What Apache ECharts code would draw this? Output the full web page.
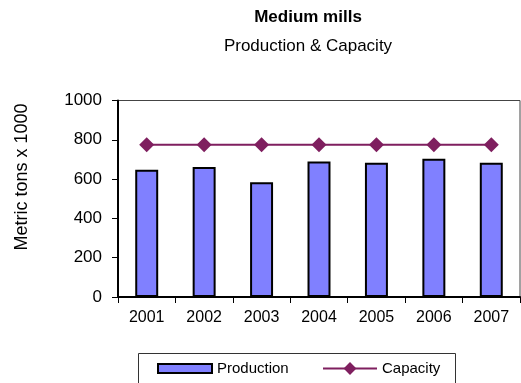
<!DOCTYPE html>
<html>
<head>
<meta charset="utf-8">
<script src="https://cdn.jsdelivr.net/npm/echarts@6/dist/echarts.min.js"></script>
<style>
  html, body { margin: 0; padding: 0; background: #fff; }
  #chart { width: 521px; height: 383px; }
</style>
</head>
<body>
<div id="chart"></div>
<script>
// Medium mills: yearly production against installed capacity (metric tons x 1000)
const years = ['2001', '2002', '2003', '2004', '2005', '2006', '2007'];
const production = [647, 661, 584, 689, 683, 703, 683];
const capacity = [775, 775, 775, 775, 775, 775, 775];
const yTicks = { min: 0, max: 1000, step: 200 };

const FONT = 'Liberation Sans, Arial, sans-serif';
const BAR_FILL = '#8080ff';
const LINE_COLOR = '#7f1f5f';

const chart = echarts.init(document.getElementById('chart'), null, { renderer: 'canvas' });

chart.setOption({
  backgroundColor: '#ffffff',
  animation: false,
  textStyle: { fontFamily: FONT, color: '#000' },
  title: [
    {
      text: 'Medium mills',
      left: 303, top: 4, textAlign: 'center',
      textStyle: { fontSize: 17, fontWeight: 'bold', color: '#000', fontFamily: FONT }
    },
    {
      text: 'Production & Capacity',
      left: 303, top: 33, textAlign: 'center',
      textStyle: { fontSize: 17, fontWeight: 'normal', color: '#000', fontFamily: FONT }
    }
  ],
  grid: {
    left: 118, right: 1, top: 100.5, bottom: 86,
    show: true, borderColor: '#444', borderWidth: 1, backgroundColor: '#fff'
  },
  xAxis: {
    type: 'category',
    data: years,
    boundaryGap: true,
    axisLine: { lineStyle: { color: '#000', width: 2 } },
    axisTick: { show: true, length: 6, lineStyle: { color: '#000', width: 1 } },
    axisLabel: { fontSize: 16, color: '#000', margin: 13, fontFamily: FONT },
    splitLine: { show: false }
  },
  yAxis: {
    type: 'value',
    min: yTicks.min, max: yTicks.max, interval: yTicks.step,
    axisLine: { show: true, lineStyle: { color: '#000', width: 2 } },
    axisTick: { show: true, length: 6, lineStyle: { color: '#000', width: 1 } },
    axisLabel: {
      fontSize: 17, color: '#000', margin: 16, fontFamily: FONT,
      formatter: (v) => String(v)
    },
    splitLine: { show: false }
  },
  graphic: [
    {
      type: 'text',
      x: 22, y: 177,
      rotation: Math.PI / 2,
      style: {
        text: 'Metric tons x 1000',
        fontSize: 18, fontFamily: FONT, fill: '#000',
        align: 'center', verticalAlign: 'middle'
      }
    },
    {
      // frame around both legend entries
      type: 'rect',
      shape: { x: 138.5, y: 353.5, width: 317, height: 40 },
      style: { fill: 'none', stroke: '#333', lineWidth: 1 },
      z: 5
    }
  ],
  legend: [
    {
      data: [{ name: 'Production', icon: 'rect' }],
      left: 157, top: 361, padding: 0,
      itemWidth: 54, itemHeight: 9,
      textStyle: { fontSize: 15, color: '#000', fontFamily: FONT }
    },
    {
      data: ['Capacity'],
      left: 322, top: 361, padding: 0,
      itemWidth: 54, itemHeight: 16,
      textStyle: { fontSize: 15, color: '#000', fontFamily: FONT }
    }
  ],
  series: [
    {
      name: 'Production',
      type: 'bar',
      data: production,
      barWidth: '40%',
      itemStyle: { color: BAR_FILL, borderColor: '#000', borderWidth: 2 }
    },
    {
      name: 'Capacity',
      type: 'line',
      data: capacity,
      symbol: 'diamond',
      symbolSize: 15,
      lineStyle: { color: LINE_COLOR, width: 2 },
      itemStyle: { color: LINE_COLOR }
    }
  ]
});
</script>
</body>
</html>
